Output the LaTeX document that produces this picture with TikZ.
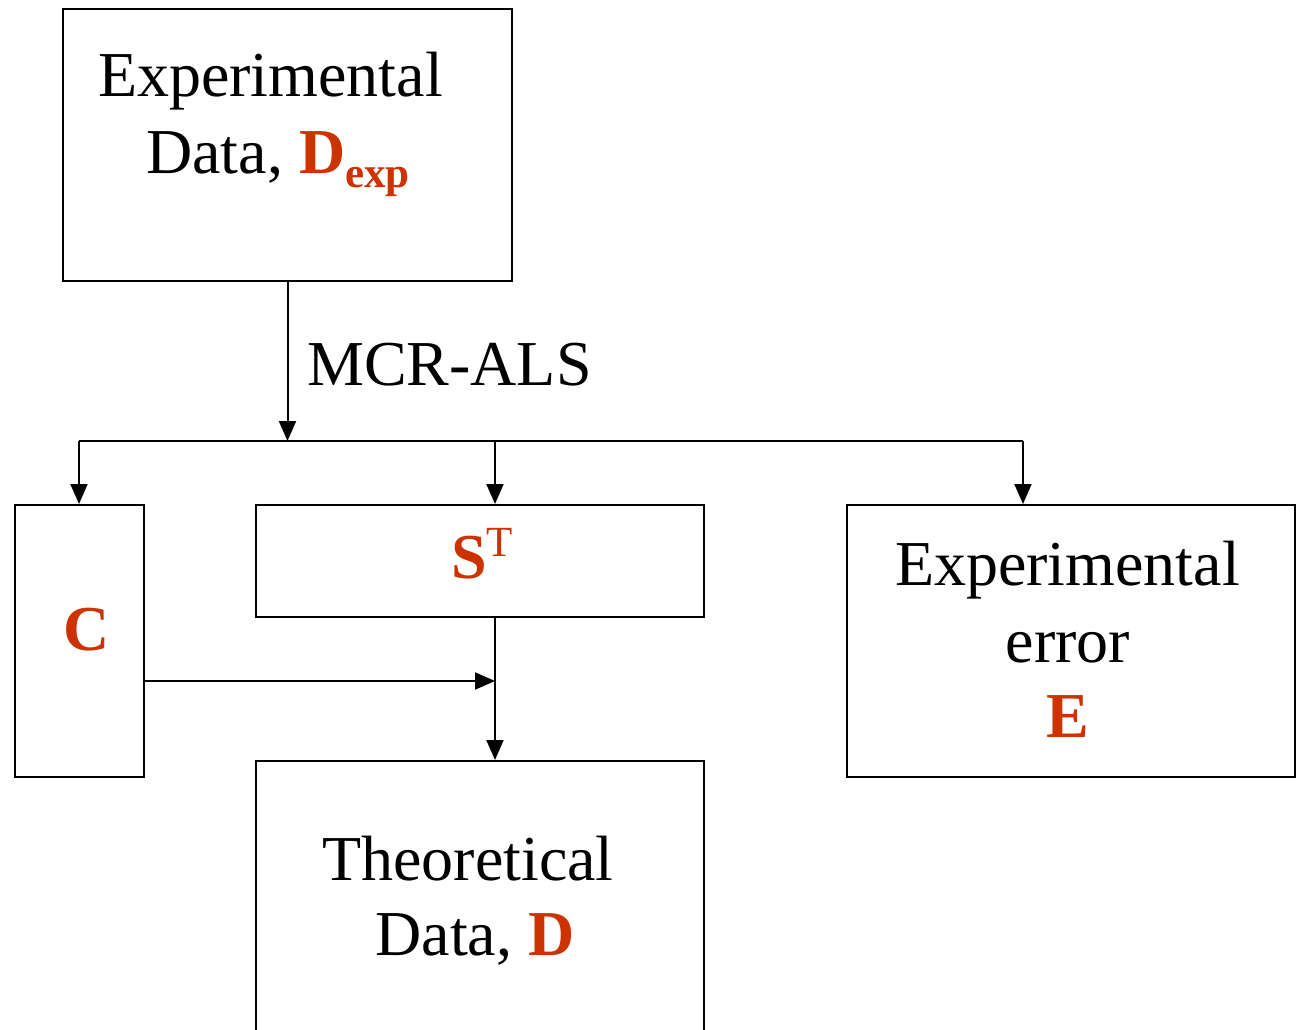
\documentclass[tikz,border=0pt]{standalone}
\usepackage{fontspec}
\setmainfont{Liberation Serif}
\usetikzlibrary{arrows.meta}
\definecolor{mred}{HTML}{CC3300}
\begin{document}
\begin{tikzpicture}[x=1pt,y=-1pt,
  box/.style={draw,line width=2pt,inner sep=0pt,minimum width=#1},
  txt/.style={anchor=base,inner sep=0pt,font=\fontsize{64}{76}\selectfont},
  red/.style={text=mred},
  conn/.style={line width=2pt},
  arr/.style={conn,-{Triangle[width=17pt,length=20pt]}}]
\useasboundingbox (0,0) rectangle (1296,1030);
\clip (0,0) rectangle (1296,1030);
% boxes
\node[box=449pt,minimum height=272pt] (dexp) at (287.5,145) {};
\node[box=129pt,minimum height=272pt] (cbox) at (79.5,641) {};
\node[box=448pt,minimum height=112pt] (stbox) at (480,561) {};
\node[box=448pt,minimum height=272pt] (ebox) at (1071,641) {};
\node[box=448pt,minimum height=300pt] (dbox) at (480,911) {};
% texts
\node[txt] (t1) at (270.5,97) {Experimental};
\node[txt] (t2) at (278,173) {Data, \textcolor{mred}{\textbf{D}\raisebox{-14pt}{\fontsize{43}{43}\selectfont\bfseries exp}}};
\node[txt,anchor=base west] (mcr) at (307,385) {MCR-ALS};
\node[txt,red] (tc) at (87,650) {\textbf{C}};
\node[txt,red] (ts) at (482,578) {\textbf{S}\raisebox{22pt}{\fontsize{43}{43}\selectfont T}};
\node[txt] (e1) at (1067.5,585) {Experimental};
\node[txt] (e2) at (1068,662) {error};
\node[txt,red] (e3) at (1068,737) {\textbf{E}};
\node[txt] (d1) at (468,880) {Theoretical};
\node[txt] (d2) at (475,955) {Data, \textcolor{mred}{\textbf{D}}};
% connectors
\coordinate (j) at (287.5,441);
\coordinate (jl) at (79,441);
\coordinate (jm) at (495,441);
\coordinate (jr) at (1023,441);
\coordinate (m) at (495,681);
\draw[arr] (dexp.south) -- (j);
\draw[conn] (jl) -- (jr);
\draw[arr] (jl) -- (jl |- cbox.north);
\draw[arr] (jm) -- (jm |- stbox.north);
\draw[arr] (jr) -- (jr |- ebox.north);
\draw[arr] (cbox.east |- m) -- (m);
\draw[arr] (stbox.south -| m) -- (dbox.north -| m);
\end{tikzpicture}
\end{document}
